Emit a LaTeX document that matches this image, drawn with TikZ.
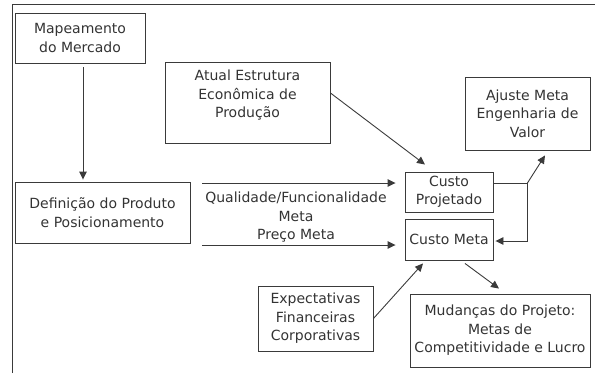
\documentclass[tikz,border=0pt]{standalone}
\usepackage{fontspec}
\setmainfont{DejaVu Sans}
\usetikzlibrary{arrows.meta,calc}
\definecolor{ink}{HTML}{333333}
\definecolor{edge}{HTML}{3A3A3A}
\tikzset{
  box/.style={draw=edge, line width=0.9pt, inner sep=0pt, align=center,
    text=ink, font=\fontsize{14}{18.5}\selectfont},
  txt/.style={align=center, text=ink, font=\fontsize{14}{18.5}\selectfont, inner sep=0pt},
  arr/.style={draw=edge, line width=0.9pt, -{Triangle[length=8pt,width=7.5pt]}},
  ln/.style={draw=edge, line width=0.9pt}
}
\begin{document}
\begin{tikzpicture}[x=1pt,y=-1pt]
\useasboundingbox (0,0) rectangle (595,373);
% frame
\coordinate (fa) at (12,373);
\coordinate (fb) at (12,4);
\coordinate (fc) at (595,4);
\draw[ln] (fa) -- (fb) -- (fc);
% nodes
\node[box, minimum width=130, minimum height=50] (map) at (80,38) {Mapeamento\\do Mercado};
\node[box, minimum width=165, minimum height=81,
  label={[txt, yshift=7pt]center:{Atual Estrutura\\Econômica de\\Produção}}] (atual) at (247.5,102.5) {};
\node[box, minimum width=125, minimum height=73] (aj) at (527.5,113.5) {Ajuste Meta\\Engenharia de\\Valor};
\node[box, minimum width=175, minimum height=61] (def) at (102.5,212.5) {Definição do Produto\\e Posicionamento};
\node[box, minimum width=88, minimum height=40] (cp) at (449,192) {Custo\\Projetado};
\node[box, minimum width=88, minimum height=41] (cm) at (449,239.5) {Custo Meta};
\node[box, minimum width=115, minimum height=65] (exp) at (315.5,318.5) {Expectativas\\Financeiras\\Corporativas};
\node[box, minimum width=180, minimum height=73] (mud) at (500,330.5) {Mudanças do Projeto:\\Metas de\\Competitividade e Lucro};
\node[txt] (lbl) at (296,217.5) {Qualidade/Funcionalidade\\Meta\\Preço Meta};
% connectors
\draw[arr, shorten <=4pt, shorten >=2pt] (map.south -| 83,0) -- (def.north -| 83,0);
\draw[arr] ($(atual.east)+(0,-9.5)$) -- ($(cp.north)+(-24,-7)$);
\draw[arr] ($(def.east)+(12,-29.5)$) -- ($(cp.west)+(-9,-9)$);
\draw[arr] ($(def.east)+(12,32.5)$) -- ($(cm.west)+(-9,5.5)$);
\coordinate (j) at ($(cp.east)+(34,-9)$);
\draw[ln] ($(cp.east)+(0,-9)$) -- (j);
\draw[arr] (j) -- ($(aj.south)+(17.5,5)$);
\draw[arr] (j) |- ($(cm.east)+(2,1.5)$);
\draw[arr] (exp.east) -- ($(cm.south)+(-26,3)$);
\draw[arr] ($(cm.south)+(16,3)$) -- ($(mud.north)+(-1,-5)$);
\end{tikzpicture}
\end{document}
